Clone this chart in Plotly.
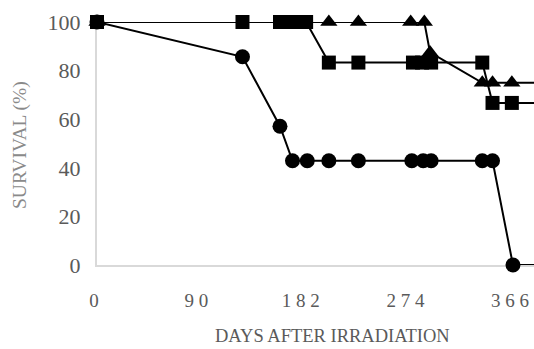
import plotly.graph_objects as go

# Data
circle_days = [0, 128, 161, 172, 185, 204, 230, 277, 287, 294, 339, 348, 366, 400]
circle_surv = [100, 85.7, 57.1, 42.9, 42.9, 42.9, 42.9, 42.9, 42.9, 42.9, 42.9, 42.9, 0, 0]

tri_days = [0, 204, 230, 276, 288, 293, 339, 348, 365, 400]
tri_surv = [100, 100, 100, 100, 100, 87.5, 75, 75, 75, 75]

sq_days = [0, 128, 161, 170, 177, 184, 204, 230, 278, 286, 294, 339, 348, 365, 400]
sq_surv = [100, 100, 100, 100, 100, 100, 83.3, 83.3, 83.3, 83.3, 83.3, 83.3, 66.7, 66.7, 66.7]

x_tickvals = [0, 90, 182, 274, 366]
x_ticktext = ["0", "9 0", "1 8 2", "2 7 4", "3 6 6"]
y_tickvals = [0, 20, 40, 60, 80, 100]

SERIF = "Liberation Serif"

fig = go.Figure()
line = dict(color="black", width=2)
fig.add_trace(go.Scatter(x=circle_days, y=circle_surv, mode="lines+markers",
                         line=line, marker=dict(symbol="circle", size=15, color="black"),
                         cliponaxis=False))
fig.add_trace(go.Scatter(x=tri_days, y=tri_surv, mode="lines+markers",
                         line=line, marker=dict(symbol="triangle-up", size=15, color="black"),
                         cliponaxis=False))
fig.add_trace(go.Scatter(x=sq_days, y=sq_surv, mode="lines+markers",
                         line=line, marker=dict(symbol="square", size=14, color="black"),
                         cliponaxis=False))

fig.update_layout(
    width=534, height=349,
    margin=dict(l=97, r=0, t=22, b=84),
    paper_bgcolor="white", plot_bgcolor="white",
    showlegend=False,
    font=dict(family=SERIF, color="#595959"),
    xaxis=dict(range=[0, 384.5], tickvals=x_tickvals, ticktext=x_ticktext,
               showgrid=False, zeroline=False, showline=True, linecolor="#d9d9d9",
               linewidth=2, ticks="", ticklabelstandoff=17, automargin=False,
               ticklabelshift=-3,
               tickfont=dict(family=SERIF, size=19, color="#5a5a5a"), layer="below traces"),
    yaxis=dict(range=[0, 100], tickvals=y_tickvals,
               showgrid=False, zeroline=False, showline=True, linecolor="#d9d9d9",
               linewidth=2, ticks="", ticklabelstandoff=10, automargin=False,
               tickfont=dict(family=SERIF, size=22, color="#5a5a5a"), layer="below traces"),
    annotations=[
        dict(text="DAYS AFTER IRRADIATION", xref="paper", yref="paper",
             x=0.538, y=-0.292, xanchor="center", yanchor="middle", showarrow=False,
             font=dict(family=SERIF, size=18.5, color="#5a5a5a")),
        dict(text="SURVIVAL (%)", xref="paper", yref="paper",
             x=-0.176, y=0.494, xanchor="center", yanchor="middle",
             showarrow=False, textangle=-90,
             font=dict(family=SERIF, size=19.5, color="#8a8a8a")),
    ],
)

fig.write_html("out.html", post_script="document.body.style.margin='0';",
               config={"displayModeBar": False})
